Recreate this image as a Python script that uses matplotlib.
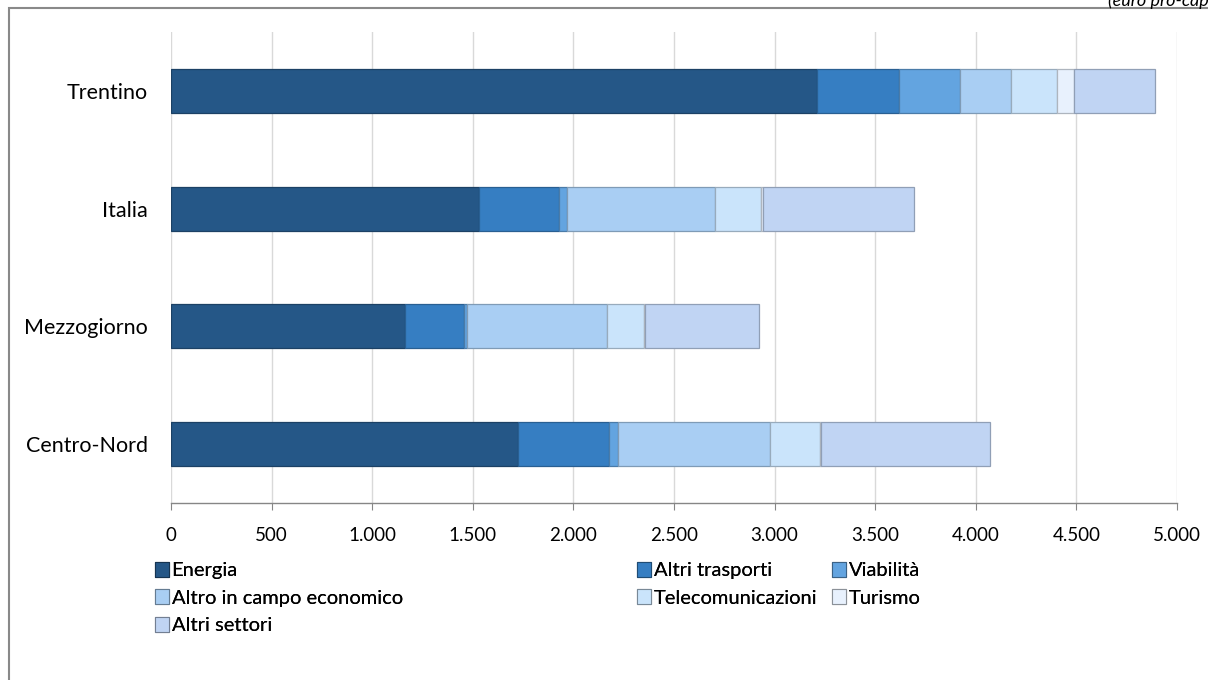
import matplotlib.pyplot as plt
import matplotlib.colors as mcolors
from matplotlib.patches import Patch, Rectangle
from matplotlib.ticker import FuncFormatter
import numpy as np

plt.rcParams['font.family'] = ['Lato', 'DejaVu Sans']

regions = ['Centro-Nord', 'Mezzogiorno', 'Italia', 'Trentino']
sectors = ['Energia', 'Altri trasporti', 'Viabilità', 'Altro in campo economico',
           'Telecomunicazioni', 'Turismo', 'Altri settori']
colors = ['#255787', '#367EC2', '#63A4E0', '#A9CEF3', '#CAE4FB', '#E8F1FD', '#C0D4F3']

# euro pro-capite, one list per sector (order: Centro-Nord, Mezzogiorno, Italia, Trentino)
energia = [1725, 1161, 1531, 3211]
altri_trasporti = [453, 296, 399, 407]
viabilita = [45, 16, 38, 301]
altro_economico = [755, 696, 736, 258]
telecomunicazioni = [246, 182, 229, 229]
turismo = [5, 5, 8, 84]
altri_settori = [843, 568, 754, 402]

values = [energia, altri_trasporti, viabilita, altro_economico,
          telecomunicazioni, turismo, altri_settori]


def darker(c, f=0.75):
    r, g, b = mcolors.to_rgb(c)
    return (r * f, g * f, b * f)


fig = plt.figure(figsize=(12.08, 6.8), dpi=100)
ax = fig.add_axes([171 / 1208, 1 - 503 / 680, 1006 / 1208, 471 / 680])

y = np.arange(len(regions))
left = np.zeros(len(regions))
for name, vals, col in zip(sectors, values, colors):
    ax.barh(y, vals, left=left, height=0.375, color=col,
            edgecolor=darker(col), linewidth=0.9, label=name, zorder=3)
    left += np.array(vals)

ax.set_xlim(0, 5000)
ax.set_ylim(-0.5, len(regions) - 0.5)
ax.set_xticks(np.arange(0, 5001, 500))
ax.xaxis.set_major_formatter(FuncFormatter(lambda v, p: f'{int(v):,}'.replace(',', '.')))
ax.set_yticks(y)
ax.set_yticklabels(regions)
ax.tick_params(axis='y', length=0, pad=16.5, labelsize=15.5)
ax.tick_params(axis='x', length=5, color='#868686', pad=12, labelsize=13.5)
ax.grid(axis='x', color='#D9D9D9', linewidth=1, zorder=0)
for s in ['top', 'right', 'left']:
    ax.spines[s].set_visible(False)
ax.spines['bottom'].set_color('#868686')
ax.spines['bottom'].set_linewidth(1)

# legend laid out in three separate columns
handles = [Patch(facecolor=c, edgecolor=darker(c, 0.6), linewidth=0.8) for c in colors]
columns = [([0, 3, 6], 155), ([1, 4], 637), ([2, 5], 832)]
for idx, xpix in columns:
    leg = fig.legend([handles[i] for i in idx], [sectors[i] for i in idx],
                     loc='upper left', bbox_to_anchor=(xpix / 1208, 1 - 562 / 680),
                     frameon=False, fontsize=14.5, handlelength=0.7, handleheight=0.75,
                     handletextpad=0.12, labelspacing=0.5, borderaxespad=0, borderpad=0)
    fig.add_artist(leg)

# outer chart frame and unit note
fig.add_artist(Rectangle((9 / 1208, -0.05), 1.1, 1.05 - 8 / 680, transform=fig.transFigure,
                         fill=False, edgecolor='#898989', linewidth=1.5))
fig.text(1108 / 1208, 1 - 6 / 680, '(euro pro-capite)', style='italic',
         fontsize=13, ha='left', va='baseline')

fig.savefig('out.png', dpi=100)
